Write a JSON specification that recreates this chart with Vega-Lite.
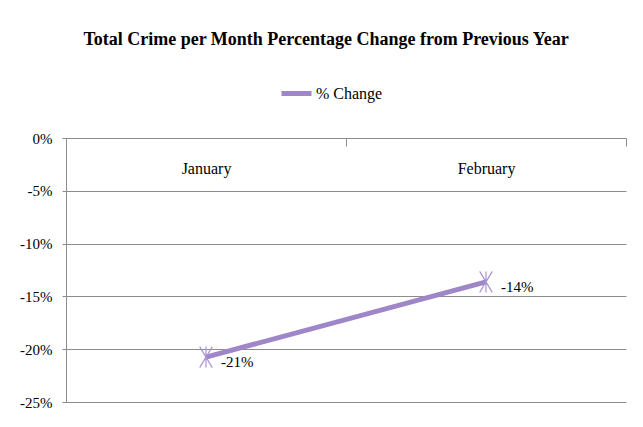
{
  "$schema": "https://vega.github.io/schema/vega-lite/v6.json",
  "width": 560,
  "height": 264,
  "autosize": {"type": "none"},
  "padding": {"left": 66, "top": 138, "right": 17, "bottom": 25},
  "background": "white",
  "config": {
    "view": {"stroke": null},
    "font": "Liberation Serif",
    "legend": {"labelFont": "Liberation Serif", "labelFontSize": 16, "labelColor": "black"},
    "locale": {"number": {"decimal": ".", "thousands": ",", "grouping": [3], "currency": ["$", ""], "minus": "-"}}
  },
  "title": {
    "text": "Total Crime per Month Percentage Change from Previous Year",
    "font": "Liberation Serif",
    "fontSize": 18,
    "fontWeight": "bold",
    "color": "black",
    "anchor": "middle",
    "dx": -20,
    "offset": 27
  },
  "data": {
    "values": [
      {"Month": "January", "Change": -0.2075, "Series": "% Change"},
      {"Month": "February", "Change": -0.1363, "Series": "% Change"}
    ]
  },
  "encoding": {
    "x": {
      "field": "Month",
      "type": "nominal",
      "sort": ["January", "February"],
      "scale": {"type": "band", "paddingInner": 0, "paddingOuter": 0},
      "axis": {
        "orient": "bottom",
        "offset": -264,
        "title": null,
        "labelAngle": 0,
        "tickBand": "extent",
        "domainColor": "#8c8c8c",
        "tickColor": "#8c8c8c",
        "tickSize": 8,
        "labelPadding": 14,
        "labelFontSize": 16,
        "labelColor": "black",
        "labelFont": "Liberation Serif"
      }
    },
    "y": {
      "field": "Change",
      "type": "quantitative",
      "scale": {"domain": [-0.25, 0], "nice": false, "zero": false},
      "axis": {
        "values": [0, -0.05, -0.1, -0.15, -0.2, -0.25],
        "format": ".0%",
        "title": null,
        "grid": true,
        "gridColor": "#8c8c8c",
        "gridWidth": 1,
        "domainColor": "#8c8c8c",
        "tickColor": "#8c8c8c",
        "tickSize": 4,
        "labelPadding": 10,
        "labelFontSize": 15,
        "labelColor": "black",
        "labelFont": "Liberation Serif"
      }
    }
  },
  "layer": [
    {
      "mark": {"type": "line", "strokeWidth": 5, "strokeCap": "butt"},
      "encoding": {
        "color": {
          "field": "Series",
          "type": "nominal",
          "scale": {"range": ["#9e86c8"]},
          "legend": {
            "orient": "none",
            "legendX": 213,
            "legendY": -62,
            "title": null,
            "symbolType": "stroke",
            "symbolStrokeWidth": 5,
            "symbolSize": 900,
            "labelFontSize": 16,
            "labelColor": "black",
            "labelFont": "Liberation Serif",
            "labelOffset": 2
          }
        }
      }
    },
    {
      "mark": {
        "type": "point",
        "shape": "M-0.6,-1L0.6,1M-0.6,1L0.6,-1M0,-1L0,1",
        "size": 441,
        "filled": false,
        "strokeWidth": 1.2,
        "color": "#a994d2",
        "opacity": 1
      }
    },
    {
      "mark": {"type": "text", "align": "left", "baseline": "middle", "dx": 15, "dy": 5, "fontSize": 15, "color": "black", "font": "Liberation Serif"},
      "encoding": {"text": {"field": "Change", "type": "quantitative", "format": ".0%"}}
    }
  ]
}
